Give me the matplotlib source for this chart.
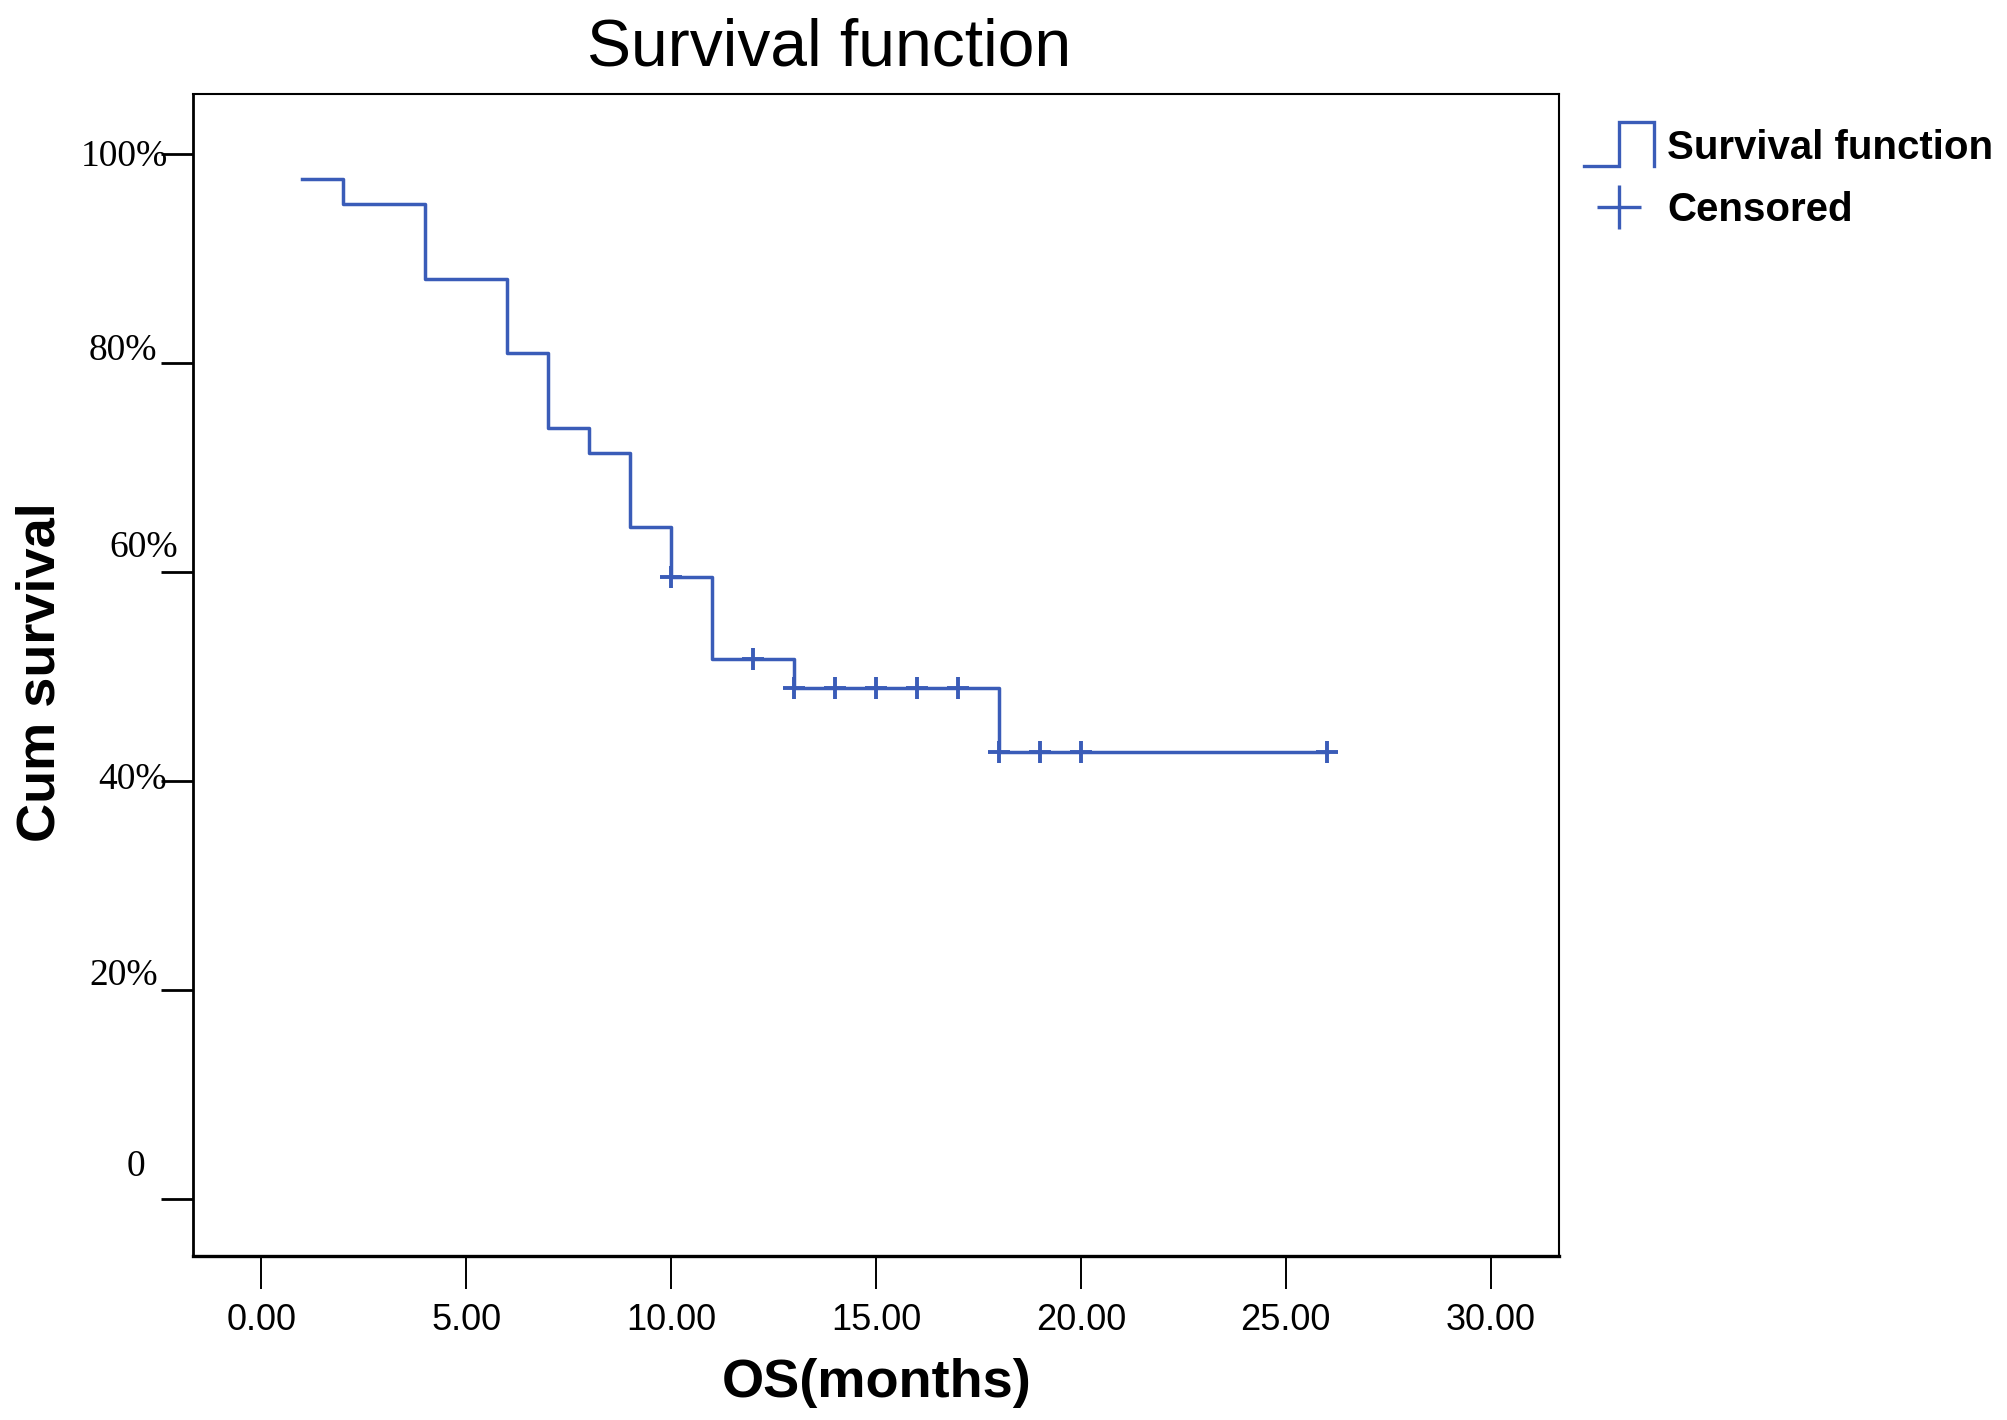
import matplotlib
matplotlib.use('Agg')
import matplotlib.pyplot as plt
import matplotlib.transforms as mtransforms
from matplotlib.lines import Line2D
from matplotlib.legend_handler import HandlerBase

# Kaplan-Meier estimate (percent)
tempos = [1, 2, 4, 6, 7, 8, 9, 10, 11, 13, 18, 26]
sobrevida = [97.6, 95.2, 88.1, 81.0, 73.8, 71.4, 64.3, 59.5, 51.7, 48.9, 42.8, 42.8]

# censored observations
tempos_cens = [10, 12, 13, 14, 15, 16, 17, 18, 19, 20, 26]
sobrevida_cens = [59.5, 51.7, 48.9, 48.9, 48.9, 48.9, 48.9, 42.8, 42.8, 42.8, 42.8]

xticks = [0, 5, 10, 15, 20, 25, 30]
xticklabels = ['0.00', '5.00', '10.00', '15.00', '20.00', '25.00', '30.00']
yticks = [0, 20, 40, 60, 80, 100]
yticklabels = ['0', '20%', '40%', '60%', '80%', '100%']
# label offsets (px) relative to tick: the original labels are a bit irregular
ylab_dx = [-57, -70, -61, -50, -70, -69]
ylab_dy = [32, 14, 1, 24, 12, -2]

AZUL = '#3a5cb8'
SANS = ['Liberation Sans', 'DejaVu Sans']
SERIF = ['Liberation Serif', 'DejaVu Serif']


class StepHandler(HandlerBase):
    # legend icon: _|‾|
    def create_artists(self, legend, orig_handle, xdescent, ydescent,
                       width, height, fontsize, trans):
        x0 = -xdescent
        x1 = x0 + width
        xm = (x0 + x1) / 2
        yc = height / 2 - ydescent
        hh = 0.78 * height
        ln = Line2D([x0, xm, xm, x1, x1],
                    [yc - hh, yc - hh, yc + hh, yc + hh, yc - hh],
                    color=AZUL, lw=2.4, solid_joinstyle='miter')
        ln.set_transform(trans)
        return [ln]


fig = plt.figure(figsize=(20.08, 14.2), dpi=100)
ax = fig.add_axes([0.0963, 0.1155, 0.6799, 0.8185])

ax.step(tempos, sobrevida, where='post', color=AZUL, lw=2.5)
ax.plot(tempos_cens, sobrevida_cens, ls='none', marker='+', color=AZUL,
        ms=16, mew=2.8)

ax.set_xlim(-1.66, 31.66)
ax.set_ylim(-5.5, 105.8)

for lado, lw in [('left', 2.0), ('bottom', 2.4), ('top', 1.5), ('right', 1.5)]:
    ax.spines[lado].set_linewidth(lw)
    ax.spines[lado].set_color('black')

ax.set_xticks(xticks)
ax.set_xticklabels(xticklabels, family=SANS, fontsize=26)
ax.tick_params(axis='x', direction='out', length=24, width=1.4, pad=10)

ax.set_yticks(yticks)
ax.set_yticklabels([])
ax.tick_params(axis='y', direction='out', length=23, width=2.0)
for val, txt, dx, dy in zip(yticks, yticklabels, ylab_dx, ylab_dy):
    off = mtransforms.ScaledTranslation(dx / 100, dy / 100, fig.dpi_scale_trans)
    ax.text(0, val, txt, transform=ax.get_yaxis_transform() + off,
            ha='center', va='center', family=SERIF, fontsize=27)

fig.text(0.413, 0.966, 'Survival function', ha='center', va='center',
         family=SANS, fontsize=47.5)
fig.text(0.0204, 0.527, 'Cum survival', rotation=90, ha='center', va='center',
         family=SANS, fontsize=39, fontweight='bold')
fig.text(0.4368, 0.026, 'OS(months)', ha='center', va='center',
         family=SANS, fontsize=39, fontweight='bold')

h_surv = Line2D([], [], color=AZUL, lw=2.4)
h_cens = Line2D([], [], ls='none', marker='+', color=AZUL, ms=32, mew=2.4)
leg = fig.legend([h_surv, h_cens], ['Survival function', 'Censored'],
                 handler_map={h_surv: StepHandler()},
                 loc='upper left', bbox_to_anchor=(0.789, 0.9095),
                 frameon=False, borderpad=0, borderaxespad=0,
                 handlelength=1.72, handletextpad=0.33, labelspacing=0.62,
                 numpoints=1, prop={'family': SANS, 'size': 29, 'weight': 'bold'})

fig.savefig('out.png', dpi=100)
